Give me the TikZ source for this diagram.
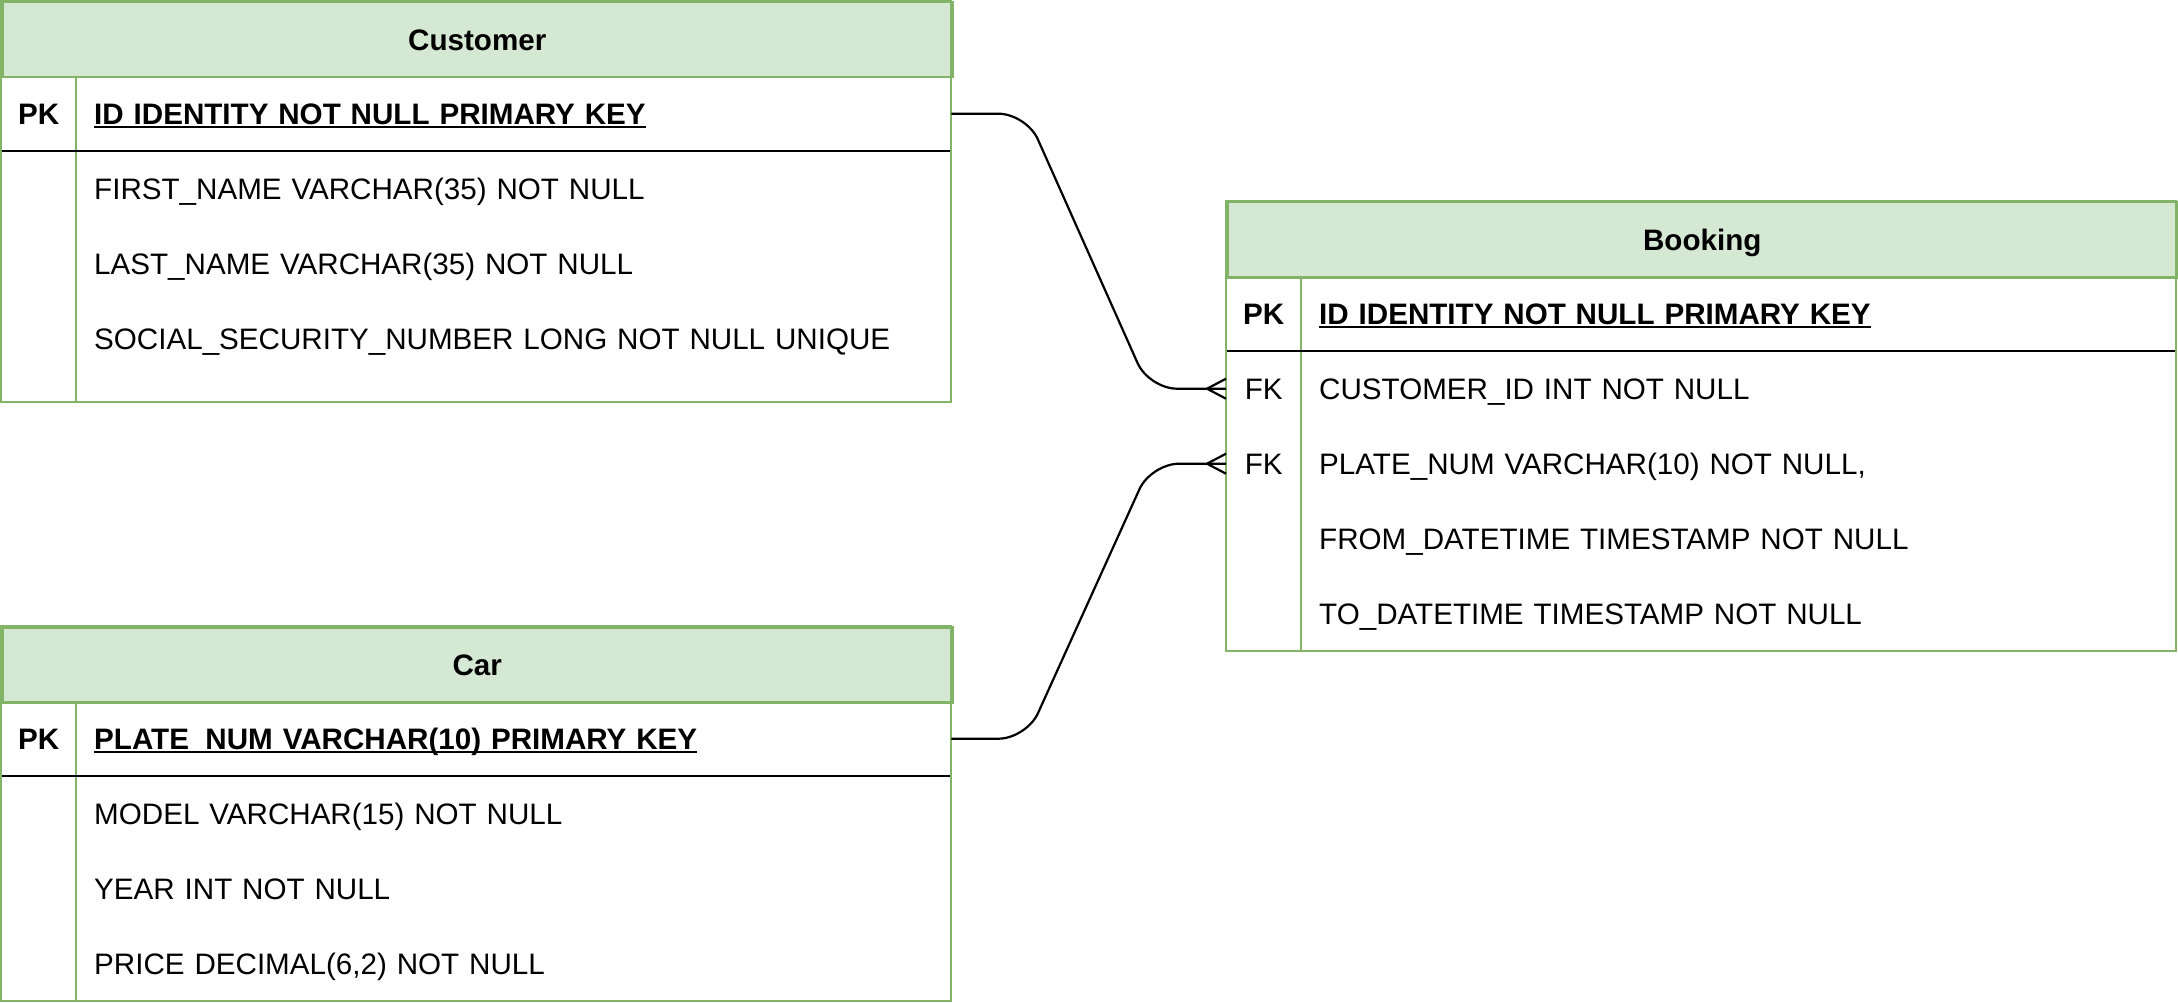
\documentclass[tikz,border=0pt]{standalone}
\usepackage{fontspec}
\setmainfont{Liberation Sans}
\definecolor{hdrfill}{HTML}{D5E8D4}
\definecolor{grnline}{HTML}{82B366}
\newcommand\pkul[1]{\setbox0=\hbox{#1}\rlap{\rule[-3.5pt]{\wd0}{2pt}}\box0}
\newcommand\tfont{\fontsize{29.6}{36}\selectfont}
\tikzset{
 tborder/.style={draw=grnline, line width=2.5pt},
 hdrbox/.style={fill=hdrfill, draw=grnline, line width=2.5pt, minimum width=950pt, minimum height=75pt, anchor=north west, inner sep=0pt, text height=21.5pt, text depth=0pt, font=\tfont\bfseries},
 keycell/.style={minimum width=75pt, minimum height=75pt, anchor=north west, inner sep=0pt, text height=21.5pt, text depth=0pt, font=\tfont},
 fieldcell/.style={minimum height=75pt, text width=839pt, inner xsep=18pt, inner ysep=0pt, align=left, anchor=north west, text height=21.5pt, text depth=0pt, font=\tfont},
 sepline/.style={draw=black, line width=2.5pt},
 divline/.style={draw=grnline, line width=2.5pt},
 relline/.style={draw=black, line width=2.2pt, rounded corners=28pt},
 crow/.style={draw=black, line width=2.2pt},
}
\begin{document}
\begin{tikzpicture}[x=1pt,y=-1pt]
\useasboundingbox[fill=white] (0,0) rectangle (2178,1003);
% ---------- Customer ----------
\begin{scope}[shift={(1,1)}]
\fill[white] (0,0) rectangle (950,401);
\draw[divline] (75,75) -- (75,401);
\node[hdrbox] (custhdr) at (0,0) {Customer};
\node[keycell, font=\tfont\bfseries] (custpkkey) at (0,75) {PK};
\node[fieldcell] (custpk) at (75,75) {\bfseries\pkul{ID IDENTITY NOT NULL PRIMARY KEY}};
\draw[sepline] (-1,150) -- (950,150);
\node[fieldcell] (custf1) at (75,150) {FIRST\_NAME VARCHAR(35) NOT NULL};
\node[fieldcell] (custf2) at (75,225) {LAST\_NAME VARCHAR(35) NOT NULL};
\node[fieldcell] (custf3) at (75,300) {SOCIAL\_SECURITY\_NUMBER LONG NOT NULL UNIQUE};
\draw[tborder] (0,0) rectangle (950,401);
\end{scope}
% ---------- Car ----------
\begin{scope}[shift={(1,626)}]
\fill[white] (0,0) rectangle (950,375);
\draw[divline] (75,75) -- (75,375);
\node[hdrbox] (carhdr) at (0,0) {Car};
\node[keycell, font=\tfont\bfseries] (carpkkey) at (0,75) {PK};
\node[fieldcell] (carpk) at (75,75) {\bfseries\pkul{PLATE\_NUM VARCHAR(10) PRIMARY KEY}};
\draw[sepline] (-1,150) -- (950,150);
\node[fieldcell] (carf1) at (75,150) {MODEL VARCHAR(15) NOT NULL};
\node[fieldcell] (carf2) at (75,225) {YEAR INT NOT NULL};
\node[fieldcell] (carf3) at (75,300) {PRICE DECIMAL(6,2) NOT NULL};
\draw[tborder] (0,0) rectangle (950,375);
\end{scope}
% ---------- Booking ----------
\begin{scope}[shift={(1226,201)}]
\fill[white] (0,0) rectangle (950,450);
\draw[divline] (75,75) -- (75,450);
\node[hdrbox] (bookhdr) at (0,0) {Booking};
\node[keycell, font=\tfont\bfseries] (bookpkkey) at (0,75) {PK};
\node[fieldcell] (bookpk) at (75,75) {\bfseries\pkul{ID IDENTITY NOT NULL PRIMARY KEY}};
\draw[sepline] (-1,150) -- (950,150);
\node[keycell] (bfk1key) at (0,150) {FK};
\node[fieldcell] (bookf1) at (75,150) {CUSTOMER\_ID INT NOT NULL};
\node[keycell] (bfk2key) at (0,225) {FK};
\node[fieldcell] (bookf2) at (75,225) {PLATE\_NUM VARCHAR(10) NOT NULL,};
\node[fieldcell] (bookf3) at (75,300) {FROM\_DATETIME TIMESTAMP NOT NULL};
\node[fieldcell] (bookf4) at (75,375) {TO\_DATETIME TIMESTAMP NOT NULL};
\draw[tborder] (0,0) rectangle (950,450);
\end{scope}
% ---------- Relations ----------
\draw[relline] (custpk.east) -- ++(75,0) -- ([xshift=-77pt]bfk1key.west) -- (bfk1key.west);
\draw[crow] ([xshift=-19pt]bfk1key.west) -- ([yshift=10pt]bfk1key.west);
\draw[crow] ([xshift=-19pt]bfk1key.west) -- ([yshift=-10pt]bfk1key.west);
\draw[relline] (carpk.east) -- ++(75,0) -- ([xshift=-75pt]bfk2key.west) -- (bfk2key.west);
\draw[crow] ([xshift=-19pt]bfk2key.west) -- ([yshift=10pt]bfk2key.west);
\draw[crow] ([xshift=-19pt]bfk2key.west) -- ([yshift=-10pt]bfk2key.west);
\end{tikzpicture}
\end{document}
